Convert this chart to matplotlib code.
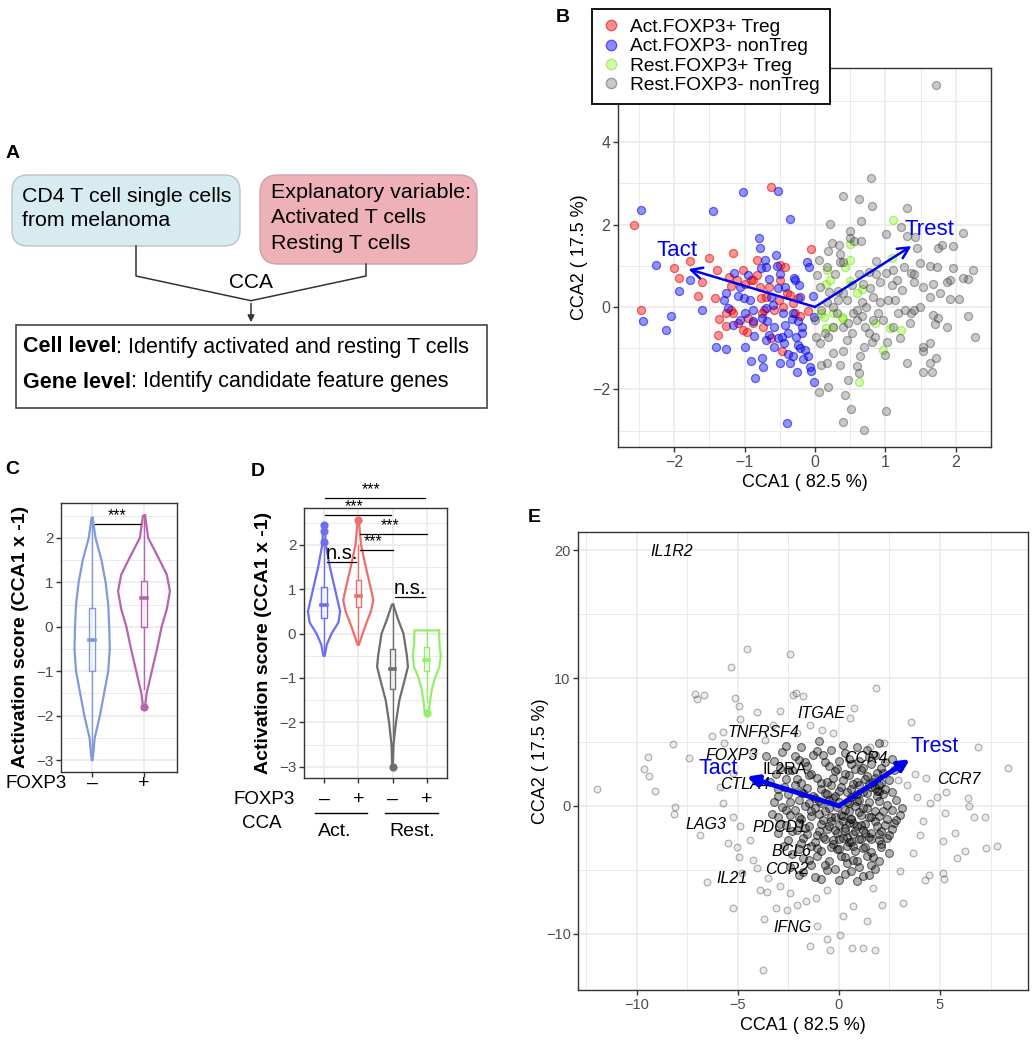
import matplotlib
matplotlib.use("Agg")
import matplotlib.pyplot as plt
import matplotlib.transforms as mtransforms
from matplotlib.patches import FancyBboxPatch
from matplotlib.lines import Line2D
from matplotlib.ticker import MultipleLocator

plt.rcParams["font.family"] = ["Liberation Sans", "DejaVu Sans"]

W, H = 1034, 1042

# ---------------- panel B : cell-level CCA biplot ----------------
red_x = [-2.57, -2.47, -2.01, -1.93, -1.78, -1.67, -1.60, -1.50, -1.42, -1.40, -1.36, -1.38, -1.27, -1.22,
         -1.17, -1.19, -1.19, -1.16, -1.09, -1.02, -0.99, -0.97, -0.95, -0.91, -0.83, -0.78, -0.77, -0.76,
         -0.74, -0.73, -0.69, -0.63, -0.62, -0.50, -0.51, -0.47, -0.42, -0.40, -0.36, -0.31, -0.28, -0.24,
         -0.21, -0.10, -0.06, -0.83, -0.88, -0.59, -1.02, -1.26, -0.50, -0.88, -0.66, -1.11, -0.45]
red_y = [1.98, -0.07, 0.95, 0.71, 1.11, 0.27, 0.60, 1.18, 0.21, 0.89, -0.30, -0.68, -0.46, 0.73,
         1.30, 0.52, -0.07, -0.15, -0.38, 0.90, 0.57, -0.60, -0.27, 0.65, 0.77, 0.49, 0.21, -0.15,
         -0.48, -0.07, 0.25, 2.91, -0.76, 0.65, 0.17, -1.08, 0.98, 0.33, 0.29, 0.09, -0.15, 0.21,
         -0.23, -0.09, 1.40, 1.14, -0.40, -0.07, -0.56, -0.15, 1.02, 0.65, 0.49, 0.65, 0.01]

blue_x = [-2.47, -2.44, -2.26, -2.12, -2.05, -1.94, -1.78, -1.61, -1.45, -1.41, -1.27, -1.30, -1.27, -1.24,
          -1.15, -1.09, -1.07, -1.02, -1.01, -1.00, -0.93, -0.91, -0.88, -0.87, -0.85, -0.80, -0.78, -0.77,
          -0.76, -0.74, -0.71, -0.70, -0.69, -0.68, -0.66, -0.65, -0.62, -0.60, -0.55, -0.54, -0.53, -0.52,
          -0.52, -0.50, -0.47, -0.44, -0.43, -0.40, -0.39, -0.38, -0.35, -0.33, -0.32, -0.30, -0.29, -0.27,
          -0.25, -0.24, -0.23, -0.21, -0.19, -0.18, -0.17, -0.14, -0.12, -0.10, -0.08, -0.07, -0.06, -0.03,
          -0.02, -0.01, -0.69, -0.59, -0.50, -0.36, -0.95, -1.07, -0.88, -0.76, -0.31, -0.21, -0.45, -0.59,
          -0.24, -0.43, -1.00, -1.16]
blue_y = [2.35, -0.35, 1.02, -0.57, -0.21, 0.40, 0.65, -0.07, 2.32, -0.98, -1.02, 0.17, 0.33, -0.03,
          0.83, 0.27, -0.31, 2.79, 0.23, -0.98, 0.17, -1.30, -0.35, -0.70, -1.73, 1.67, 1.44, 0.95,
          -1.23, -1.45, 1.14, 0.96, -0.02, -0.35, 0.69, -0.68, 0.25, 0.06, 1.26, 1.00, 2.82, 0.45,
          -0.76, 0.81, -0.72, -0.88, 0.48, -2.82, -1.14, -0.64, 2.13, -0.30, -1.20, 0.71, 0.65, -0.72,
          -1.59, -0.92, 0.53, -1.00, -0.49, -0.64, -1.27, -1.04, 1.10, -1.20, 0.98, -1.45, -1.56, 0.27,
          -0.25, -1.83, -0.80, -0.96, -1.36, -1.36, 0.77, 0.49, -0.07, -0.27, -0.15, 0.25, -0.15, -0.48,
          -0.35, -0.44, -0.15, -0.44]

green_x = [1.11, 1.09, 0.50, 0.49, 0.43, 0.17, 0.16, 0.49, 0.66, 0.12, 0.16, 0.26, 0.38, 0.40, 0.85,
           1.06, 1.22, 0.96, 0.62, 0.09, 0.21, 0.26, 0.59]
green_y = [2.12, 1.18, 1.52, 1.14, 0.96, 0.90, 0.56, 0.63, 0.43, -0.25, -0.52, -0.49, -0.25, -0.30, -0.40,
           -0.52, -0.56, -1.04, -1.82, -0.15, 0.65, -0.15, 0.33]

gray_x = [1.72, 0.79, 0.39, 0.63, 0.81, 1.30, 0.21, 0.65, 1.22, 0.50, 1.01, 1.30, 2.10, 1.96, 1.81, 1.74,
          0.49, 0.65, 0.24, 0.34, 0.56, 0.19, 0.35, 0.87, 0.05, 0.36, 0.40, 1.45, 1.42, 1.49, 1.63, 1.73,
          1.96, 2.25, 2.10, 2.18, 1.92, 1.41, 1.37, 1.26, 1.11, 1.01, 0.87, 0.76, 0.63, 0.28, 0.17, 0.03,
          0.07, 0.20, 0.32, 0.39, 0.52, 0.68, 0.78, 0.92, 1.09, 1.16, 1.23, 1.40, 1.54, 1.68, 1.63, 1.78,
          1.87, 2.04, 1.92, 2.18, 2.27, 1.87, 1.68, 1.74, 1.71, 1.72, 1.63, 1.54, 1.54, 1.54, 1.66, 1.63,
          1.30, 1.35, 1.37, 1.28, 1.14, 1.04, 0.92, 0.83, 0.73, 0.66, 0.59, 0.54, 0.45, 0.33, 0.26, 0.17,
          0.08, 0.00, 0.02, 0.07, 0.14, 0.19, 0.31, 0.40, 0.47, 0.52, 0.59, 0.66, 0.71, 0.76, 0.81, 0.85,
          0.90, 0.97, 1.02, 1.00, 1.11, 1.21, 1.18, 0.69, 0.64, 0.59, 0.62, 0.47, 0.40, 0.36, 0.26, 0.17,
          0.09, 0.19, 0.05, 0.43, 0.51, 0.39, 0.69, 1.01, 1.40, 1.49, 0.83, 0.45, 0.26]
gray_y = [5.40, 3.14, 2.70, 2.62, 2.45, 2.40, 2.02, 2.08, 1.94, 1.85, 1.76, 1.72, 1.80, 1.48, 1.50, 1.42,
          1.68, 1.60, 1.55, 1.50, 1.60, 1.36, 1.28, 1.11, 1.14, 1.10, 1.10, 1.42, 1.70, 1.06, 0.99, 0.98,
          0.95, 0.90, 0.71, 0.67, 0.65, 0.79, 0.83, 0.98, 0.90, 0.83, 0.79, 0.85, 0.81, 0.81, 0.98, 0.77,
          0.49, 0.37, 0.39, 0.33, 0.53, 0.57, 0.45, 0.61, 0.53, 0.65, 0.41, 0.61, 0.49, 0.57, 0.25, 0.33,
          0.61, 0.19, 0.19, -0.22, -0.73, -0.48, -0.19, -0.27, -0.41, -1.23, -0.88, -0.96, -1.08, -1.59, -1.59, -1.36,
          -1.36, -0.40, -0.15, -0.07, 0.17, 0.17, 0.13, 0.25, 0.01, 0.13, -0.07, -0.15, 0.17, 0.17, 0.01, 0.13,
          -0.07, -0.31, -0.72, -0.88, -0.64, -0.72, -0.15, -0.48, -0.40, -0.64, -0.31, -0.23, -0.48, -0.64, -0.84, -0.72,
          -0.15, -0.31, -0.84, -1.16, -0.48, -0.76, -0.15, -0.96, -1.20, -1.44, -1.61, -1.77, -1.08, -1.40, -1.12, -1.36,
          -1.40, -1.94, -2.06, -2.13, -2.47, -2.79, -2.98, -2.52, -0.07, 0.01, -0.31, -0.80, -0.48]

b_tact = (-1.80, 0.92)
b_trest = (1.37, 1.48)

# ---------------- panel C / D : activation score violins ----------------
c_neg_y = [2.45, 2.0, 1.5, 1.0, 0.5, 0.0, -0.5, -1.0, -1.5, -2.0, -2.5, -3.0]
c_neg_w = [0.01, 0.065, 0.18, 0.26, 0.31, 0.33, 0.34, 0.31, 0.23, 0.15, 0.05, 0.01]
c_neg_box = [-3.0, -1.0, -0.3, 0.42, 2.45]
c_neg_out = []
c_pos_y = [2.5, 2.0, 1.5, 1.17, 0.8, 0.4, 0.0, -0.5, -1.0, -1.35, -1.5, -1.8]
c_pos_w = [0.02, 0.08, 0.30, 0.44, 0.50, 0.44, 0.34, 0.25, 0.15, 0.08, 0.05, 0.02]
c_pos_box = [-1.4, 0.0, 0.65, 1.02, 2.5]
c_pos_out = [-1.8]

d1_y = [2.45, 2.0, 1.5, 1.0, 0.5, 0.25, 0.0, -0.25, -0.5]
d1_w = [0.02, 0.05, 0.17, 0.32, 0.47, 0.42, 0.22, 0.08, 0.02]
d1_box = [-0.5, 0.35, 0.65, 1.05, 1.95]
d1_out = [2.07, 2.3, 2.45]
d2_y = [2.55, 2.0, 1.5, 1.0, 0.75, 0.5, 0.2, 0.0, -0.25]
d2_w = [0.02, 0.08, 0.22, 0.37, 0.44, 0.37, 0.22, 0.13, 0.02]
d2_box = [-0.25, 0.6, 0.85, 1.2, 2.0]
d2_out = [2.55]
d3_y = [0.65, 0.3, 0.0, -0.5, -0.75, -1.0, -1.5, -2.0, -2.5, -3.0]
d3_w = [0.02, 0.17, 0.32, 0.42, 0.45, 0.37, 0.20, 0.10, 0.03, 0.01]
d3_box = [-2.35, -1.25, -0.8, -0.35, 0.6]
d3_out = [-3.0]
d4_y = [0.07, -0.25, -0.5, -0.75, -1.0, -1.25, -1.5, -1.75, -1.8]
d4_w = [0.36, 0.37, 0.41, 0.37, 0.24, 0.15, 0.10, 0.06, 0.02]
d4_box = [-1.55, -0.85, -0.6, -0.3, 0.05]
d4_out = [-1.8]

# ---------------- panel E : gene-level CCA biplot ----------------
gene_x = [-11.95, -9.65, -9.47, -9.40, -9.08, -8.20, -8.12, -8.17, -7.43, -7.14, -7.01, -6.70, -6.88, -6.55,
          -6.27, -5.73, -5.69, -5.36, -5.15, -4.93, -4.90, -4.54, -4.04, -5.23, -4.93, -5.48, -3.91, -3.58,
          -3.71, -3.75, -3.12, -2.92, -2.43, -2.29, -2.13, -1.77, 1.83, 0.76, 0.54, 3.55, 6.86, 8.35,
          6.40, 6.44, 6.70, 7.23, 7.84, 7.28, 6.24, 5.86, 5.74, 5.23, 5.15, 5.15, 5.18, 4.47, 4.26,
          4.83, 5.30, 4.29, 3.76, 3.18, 2.11, 1.37, 1.78, 1.20, 0.63, 0.05, -0.45, -0.58, -1.11, -1.44,
          0.18, 0.71, -1.63, -2.59, -2.06, -1.14, -0.61, 1.70, 3.02, 3.65, 4.01, 4.17, 4.50, 3.84, 3.35,
          2.94, 2.24, 1.53, -0.28, -0.86, -1.44, -2.10, -3.25, -3.66, -4.24, -5.23, -5.89, -5.73, -5.23,
          -4.90, -4.41, -5.07, -4.24, -4.08, -3.50, -2.92, -2.43, -4.82]
gene_y = [1.30, 2.92, 3.85, 2.37, 1.20, 4.84, -0.05, -0.65, 3.72, 8.72, 8.39, 8.67, -2.27, -5.96,
          5.49, 5.78, 4.90, 10.89, 8.41, 7.81, 6.80, 12.24, 7.37, -8.00, -3.96, -2.92, -6.56, -6.77,
          -8.85, -12.81, -8.00, 7.42, 11.88, 8.67, 8.85, 8.62, 9.24, 7.63, 6.85, 6.59, 4.64, 2.94,
          0.60, 0.00, -0.83, -0.83, -3.13, -3.26, -3.49, -4.04, -2.14, -0.52, -2.71, -5.26, -5.73, -5.39, -5.78,
          0.73, 1.12, 2.21, 2.47, -7.60, -7.73, -9.04, -11.25, -11.12, -11.12, -10.08, -11.25, -10.39, -9.43, -10.94,
          -8.65, -7.86, -7.47, -8.13, -7.73, -7.21, -6.56, -6.43, -5.13, -3.70, -2.27, -1.22, 0.21, 0.73, 1.64,
          2.03, 4.90, 4.64, 5.68, 5.94, 6.33, 5.68, 6.33, 5.16, 4.11, 2.55, 1.51, 0.21, -0.83,
          -1.61, -2.66, -3.18, -4.22, -4.87, -5.65, -6.30, -6.82, -5.26]

# dense centre of the gene cloud
core_x = [-3.2, -2.8, -2.5, -2.2, -1.9, -1.6, -1.3, -1.0, -0.7, -0.4, -0.1, 0.3, 0.6, 0.9, 1.2, 1.5, 1.9, 2.3,
          -3.4, -3.0, -2.7, -2.4, -2.1, -1.8, -1.5, -1.2, -0.9, -0.6, -0.3, 0.0, 0.3, 0.6, 0.9, 1.2, 1.5, 1.8,
          2.0, 2.2, 2.5, 2.8, 1.7, 1.9,
          -3.3, -2.9, -2.6, -2.3, -2.0, -1.7, -1.4, -1.1, -0.8, -0.5, -0.2, 0.1, 0.4, 0.7, 1.0, 1.3, 1.6, 1.9,
          2.2, 2.5, 2.8, 3.1,
          -2.7, -2.3, -1.9, -1.5, -1.1, -0.7, -0.3, 0.1, 0.5, 0.9, 1.3, 1.7, 2.1, 2.5,
          -1.8, -1.2, -0.6, 0.0, 0.6, 1.2, 1.8,
          0.2, 0.5, 0.8, -0.2, 0.4, 1.1, 0.0, 0.7, -0.5, 1.4, -0.9, 0.3, 0.9, -0.3, 1.6, 0.6, -0.1, 1.0,
          -0.7, 2.0,
          -2.6, -1.1, 0.2, 1.4, 2.0,
          -3.6, -2.0, -0.8, 0.5, 1.0, 1.8, 2.6,
          -2.9, -1.7, -0.5, 0.0, 0.8, 1.6, 2.1,
          -3.1, -2.3, -1.4, -0.2, 0.5, 1.1, 1.4, 2.2, 2.7,
          -2.6, -1.9, -1.1, -0.6, 0.2, 0.7, 1.3, 2.1, 1.8,
          -3.0, -2.2, -1.6, -0.9, -0.4, 0.1, 0.6, 1.0, 1.6, 2.3, 2.0,
          -2.5, -1.9, -1.3, -0.7, -0.2, 0.4, 0.9, 1.4, 1.9, 2.6,
          -3.2, -2.0, -1.5, -1.0, -0.5, 0.0, 0.5, 1.0, 1.5, 2.0, 2.4,
          -2.8, -2.2, -1.7, -1.2, -0.7, -0.1, 0.3, 0.8, 1.2, 1.8, 2.6,
          -3.0, -2.4, -1.9, -1.4, -1.0, -0.4, 0.2, 0.6, 1.1, 1.5, 2.0, 2.4, 3.0,
          -2.6, -2.0, -1.5, -0.9, -0.4, 0.0, 0.5, 0.9, 1.3, 1.8, 2.3, 2.7,
          -3.0, -2.1, -1.6, -1.0, -0.6, -0.1, 0.3, 0.7, 1.2, 1.6, 2.1, 2.6,
          -2.5, -1.8, -1.2, -0.8, -0.3, 0.2, 0.6, 1.1, 1.5, 2.0, 2.4,
          -2.0, -1.4, -0.9, -0.4, 0.0, 0.4, 0.8, 1.2, 1.6, 2.1,
          -1.8, -1.1, -0.5, 0.3, 0.7, 1.4, 2.0,
          -2.4, -1.4, -0.2, 0.4, 1.0, 1.6,
          -2.0, -0.9, 0.3, 0.9, 1.5]
core_y = [3.5, 4.2, 2.8, 3.9, 4.6, 3.1, 4.0, 5.1, 3.4, 4.4, 2.9, 4.1, 3.3, 4.6, 3.0, 3.8, 2.6, 3.4,
          1.9, 0.8, 1.5, 0.3, 2.1, 1.0, 2.4, 0.6, 1.8, 0.9, 2.2, 1.2, 2.5, 0.7, 1.9, 1.1, 1.7, 1.4,
          1.6, 0.9, 2.0, 0.5, 1.9, 1.2,
          -0.6, -1.4, -0.3, -2.0, -0.9, -1.7, -0.4, -2.3, -1.1, -0.2, -1.9, -0.7, -2.4, -1.3, -0.5, -2.1, -0.9, -1.6,
          -0.4, -2.3, -1.1, -0.2,
          -3.1, -3.8, -2.9, -4.2, -3.3, -4.6, -3.0, -3.9, -2.8, -4.3, -3.2, -4.0, -3.0, -3.7,
          -5.2, -5.6, -5.0, -5.8, -5.1, -5.5, -4.9,
          -1.2, -0.4, -2.0, -0.9, 0.3, -1.5, -2.6, -3.1, -1.6, -0.2, 0.2, -1.7, 0.4, 0.6, -2.6, -1.0, -3.4, -2.6,
          -2.6, -2.2,
          4.7, 4.3, 4.8, 4.4, 4.9,
          3.9, 3.6, 4.0, 3.7, 3.5, 4.0, 3.7,
          3.0, 3.4, 3.1, 3.5, 2.9, 3.3, 3.0,
          2.5, 2.8, 2.5, 2.7, 2.4, 2.8, 2.3, 2.6, 2.8,
          2.1, 1.8, 2.2, 1.9, 2.0, 1.7, 2.1, 1.8, 2.2,
          1.3, 1.6, 1.4, 1.3, 1.6, 1.5, 1.3, 1.6, 1.5, 1.3, 1.2,
          0.9, 1.1, 0.8, 1.0, 0.8, 1.1, 0.9, 1.0, 0.8, 1.1,
          0.3, 0.5, 0.2, 0.4, 0.5, 0.3, 0.2, 0.5, 0.3, 0.4, 0.1,
          -0.1, -0.3, 0.0, -0.2, -0.4, -0.1, -0.3, 0.0, -0.2, -0.4, -0.3,
          -0.9, -0.7, -1.0, -0.8, -0.6, -0.9, -0.8, -1.0, -0.7, -0.9, -0.8, -1.0, -0.7,
          -1.5, -1.3, -1.6, -1.4, -1.2, -1.5, -1.3, -1.6, -1.4, -1.2, -1.5, -1.3,
          -2.1, -1.9, -2.2, -2.0, -1.8, -2.1, -2.0, -2.2, -1.9, -2.1, -2.0, -1.8,
          -2.7, -2.5, -2.8, -2.4, -2.7, -2.5, -2.8, -2.6, -2.4, -2.7, -2.5,
          -3.4, -3.1, -3.5, -3.2, -3.4, -3.1, -3.5, -3.3, -3.6, -3.2,
          -4.1, -3.9, -4.3, -4.0, -4.2, -3.9, -4.3,
          -4.8, -4.6, -4.9, -4.5, -4.8, -4.6,
          -5.4, -5.7, -5.3, -5.9, -5.4]

gene_names = ["IL1R2", "ITGAE", "TNFRSF4", "FOXP3", "CCR4", "IL2RA", "CTLA4", "CCR7",
              "LAG3", "PDCD1", "BCL6", "CCR2", "IL21", "IFNG"]
gene_lab_x = [-8.28, -0.86, -3.75, -5.31, 1.34, -2.67, -4.65, 5.91, -6.60, -2.95, -2.34, -2.59, -5.28, -2.29]
gene_lab_y = [19.9, 7.24, 5.73, 3.98, 3.72, 2.81, 1.64, 2.03, -1.48, -1.67, -3.57, -4.95, -5.65, -9.51]

e_tact = (-4.57, 2.29)
e_trest = (3.51, 3.65)

TICK_GREY = "#4d4d4d"
GRID = "#ebebeb"


def style_axis(ax, tick_size=11):
    for sp in ax.spines.values():
        sp.set_color("#333333")
        sp.set_linewidth(1.0)
    ax.grid(True, which="major", color=GRID, linewidth=1.2)
    ax.grid(True, which="minor", color=GRID, linewidth=0.7)
    ax.set_axisbelow(True)
    ax.tick_params(which="major", length=3.5, width=1.0, color="#333333",
                   labelcolor=TICK_GREY, labelsize=tick_size, pad=2)
    ax.tick_params(which="minor", length=0)


def draw_violin(ax, pos, ys, ws, box, outliers, color, box_w):
    right = [pos + w for w in ws]
    left = [pos - w for w in ws][::-1]
    xs = right + left + [right[0]]
    yy = list(ys) + list(ys)[::-1] + [ys[0]]
    ax.plot(xs, yy, color=color, lw=1.6, solid_joinstyle="round")
    lo, q1, med, q3, hi = box
    ax.plot([pos, pos], [lo, q1], color=color, lw=1.0)
    ax.plot([pos, pos], [q3, hi], color=color, lw=1.0)
    ax.add_patch(plt.Rectangle((pos - box_w, q1), 2 * box_w, q3 - q1, fill=False,
                               edgecolor=color, lw=1.0))
    ax.plot([pos - box_w, pos + box_w], [med, med], color=color, lw=2.6)
    if outliers:
        ax.scatter([pos] * len(outliers), outliers, s=24, color=color, zorder=4)


fig = plt.figure(figsize=(W / 100, H / 100), dpi=100)

# overlay in pixel coordinates for the flow chart and panel letters
ov = fig.add_axes([0, 0, 1, 1])
ov.set_xlim(0, W)
ov.set_ylim(H, 0)
ov.axis("off")

for letter, (lx, ly) in zip("ABCDE", [(13, 154), (563, 18), (12, 470), (258, 472), (534, 517)]):
    ov.text(lx, ly, letter, fontsize=14, fontweight="bold", ha="center", va="center")

# ---- panel A ----
ov.add_patch(FancyBboxPatch((12, 175), 228, 71, boxstyle="round,pad=0,rounding_size=16",
                            facecolor="#d8ebf1", edgecolor="#b9c4c8", lw=1.0))
ov.add_patch(FancyBboxPatch((260, 175), 217, 89, boxstyle="round,pad=0,rounding_size=18",
                            facecolor="#eeb1b8", edgecolor="#cfa0a5", lw=1.0))
ov.add_patch(plt.Rectangle((16, 325), 471, 83, facecolor="white", edgecolor="#444444", lw=1.2))
ov.text(22, 196, "CD4 T cell single cells", fontsize=15.4, va="center")
ov.text(22, 221, "from melanoma", fontsize=15.4, va="center")
for i, line in enumerate(["Explanatory variable:", "Activated T cells", "Resting T cells"]):
    ov.text(271, 192 + i * 25.8, line, fontsize=15.4, va="center")
ov.plot([136, 136, 251, 366, 366], [246, 276, 300.7, 276, 264], color="#333333", lw=1.1)
ov.annotate("", xy=(251, 325), xytext=(251, 300.7),
            arrowprops=dict(arrowstyle="-|>", color="#333333", lw=1.1, mutation_scale=10))
ov.text(251, 283, "CCA", fontsize=15, ha="center", va="center")
for yy, bold, rest in [(347, "Cell level", ": Identify activated and resting T cells"),
                       (382, "Gene level", ": Identify candidate feature genes")]:
    tb = ov.text(23, yy, bold, fontsize=15.5, fontweight="bold", va="center")
    ov.annotate(rest, xy=(1, 0), xycoords=tb, fontsize=15.5, va="bottom", ha="left")

# ---- panel B ----
axB = fig.add_axes([618 / W, 1 - 447 / H, (991 - 618) / W, (447 - 67.7) / H])
style_axis(axB, 11.5)
pt = dict(s=34, linewidths=0.9)
axB.scatter(red_x, red_y, facecolor=(1, 0, 0, 0.42), edgecolor=(0.85, 0, 0, 0.55), **pt)
axB.scatter(blue_x, blue_y, facecolor=(0, 0, 1, 0.42), edgecolor=(0, 0, 0.85, 0.55), **pt)
axB.scatter(green_x, green_y, facecolor=(0.49, 0.99, 0, 0.35), edgecolor=(0.4, 0.85, 0, 0.45), **pt)
axB.scatter(gray_x, gray_y, facecolor=(0.3, 0.3, 0.3, 0.3), edgecolor=(0.2, 0.2, 0.2, 0.4), **pt)
for tip, name, off in [(b_tact, "Tact", (-0.16, 0.44)), (b_trest, "Trest", (0.26, 0.40))]:
    axB.annotate("", xy=tip, xytext=(0, 0),
                 arrowprops=dict(arrowstyle="->", color="#0000ee", lw=1.8, mutation_scale=20,
                                 shrinkA=0, shrinkB=0))
    axB.text(tip[0] + off[0], tip[1] + off[1], name, color="#0000ee", fontsize=16,
             ha="center", va="center")
axB.set_xlim(-2.80, 2.50)
axB.set_ylim(-3.40, 5.81)
axB.xaxis.set_major_locator(MultipleLocator(1))
axB.xaxis.set_minor_locator(MultipleLocator(0.5))
axB.yaxis.set_major_locator(MultipleLocator(2))
axB.yaxis.set_minor_locator(MultipleLocator(1))
axB.set_xlabel("CCA1 ( 82.5 %)", fontsize=13, labelpad=3)
axB.set_ylabel("CCA2 ( 17.5 %)", fontsize=13, labelpad=3)
handles = [Line2D([], [], ls="", marker="o", markersize=7.5, markerfacecolor=fc, markeredgecolor=ec)
           for fc, ec in [((1, 0, 0, 0.45), (0.85, 0, 0, 0.55)), ((0, 0, 1, 0.45), (0, 0, 0.85, 0.55)),
                          ((0.49, 0.99, 0, 0.35), (0.4, 0.85, 0, 0.45)),
                          ((0.3, 0.3, 0.3, 0.3), (0.2, 0.2, 0.2, 0.4))]]
leg = axB.legend(handles, ["Act.FOXP3+ Treg", "Act.FOXP3- nonTreg", "Rest.FOXP3+ Treg",
                           "Rest.FOXP3- nonTreg"],
                 loc="upper left", bbox_to_anchor=(592 / W, 1 - 9 / H), bbox_transform=fig.transFigure,
                 fontsize=13.8, frameon=True, fancybox=False, framealpha=1, borderaxespad=0,
                 labelspacing=0.1, handlelength=1.0, handletextpad=0.5, borderpad=0.5)
leg.get_frame().set_edgecolor("black")
leg.get_frame().set_linewidth(1.3)

# ---- panel C ----
axC = fig.add_axes([61 / W, 1 - 771.7 / H, (176.7 - 61) / W, (771.7 - 502.7) / H])
style_axis(axC, 11)
draw_violin(axC, 1, c_neg_y, c_neg_w, c_neg_box, c_neg_out, "#7f9bdb", 0.06)
draw_violin(axC, 2, c_pos_y, c_pos_w, c_pos_box, c_pos_out, "#b864ad", 0.06)
axC.plot([1.06, 1.92], [2.32, 2.32], color="black", lw=0.9)
axC.text(1.49, 2.34, "***", fontsize=11.5, ha="center", va="bottom")
axC.set_xlim(0.4, 2.63)
axC.set_ylim(-3.26, 2.79)
axC.set_xticks([1, 2])
axC.set_xticklabels([])
axC.yaxis.set_major_locator(MultipleLocator(1))
axC.yaxis.set_minor_locator(MultipleLocator(0.5))
axC.set_ylabel("Activation score (CCA1 x -1)", fontsize=14, fontweight="bold", labelpad=5)
trC = mtransforms.blended_transform_factory(axC.transData, ov.transData)
for xpos, lab in [(1, "–"), (2, "+")]:
    ov.text(xpos, 783, lab, transform=trC, fontsize=14, ha="center", va="center")
ov.text(36, 783, "FOXP3", fontsize=13.5, ha="center", va="center")

# ---- panel D ----
axD = fig.add_axes([304 / W, 1 - 778.3 / H, (447.3 - 304) / W, (778.3 - 508.3) / H])
style_axis(axD, 11)
for pos, ys, ws, box, outl, col in [(1, d1_y, d1_w, d1_box, d1_out, "#6e6ef2"),
                                    (2, d2_y, d2_w, d2_box, d2_out, "#ee6e6e"),
                                    (3, d3_y, d3_w, d3_box, d3_out, "#6e6e6e"),
                                    (4, d4_y, d4_w, d4_box, d4_out, "#93ef6a")]:
    draw_violin(axD, pos, ys, ws, box, outl, col, 0.08)
sig = [(1.03, 3.94, 3.06, "***", 3.07, 11.5), (1.03, 2.95, 2.67, "***", 2.68, 11.5),
       (2.05, 4.0, 2.24, "***", 2.25, 11.5), (2.05, 3.0, 1.88, "***", 1.89, 11.5),
       (1.1, 1.93, 1.6, "n.s.", 1.58, 14.5), (3.07, 3.95, 0.83, "n.s.", 0.81, 14.5)]
for x0, x1, yb, lab, yt, fs in sig:
    axD.plot([x0, x1], [yb, yb], color="black", lw=0.9, clip_on=False)
    xt = (x0 + x1) / 2 if lab == "n.s." else (x0 + x1) / 2 - 0.1
    axD.text(xt, yt, lab, fontsize=fs, ha="center", va="bottom", clip_on=False)
axD.set_xlim(0.415, 4.6)
axD.set_ylim(-3.26, 2.82)
axD.set_xticks([1, 2, 3, 4])
axD.set_xticklabels([])
axD.yaxis.set_major_locator(MultipleLocator(1))
axD.yaxis.set_minor_locator(MultipleLocator(0.5))
axD.set_ylabel("Activation score (CCA1 x -1)", fontsize=14, fontweight="bold", labelpad=5)
trD = mtransforms.blended_transform_factory(axD.transData, ov.transData)
for xpos, lab in [(1, "–"), (2, "+"), (3, "–"), (4, "+")]:
    ov.text(xpos, 799, lab, transform=trD, fontsize=14, ha="center", va="center")
ov.text(264, 799, "FOXP3", fontsize=13.5, ha="center", va="center")
ov.text(262, 823, "CCA", fontsize=13.5, ha="center", va="center")
ov.plot([315, 367], [813, 813], color="black", lw=1.0)
ov.plot([385, 438], [813, 813], color="black", lw=1.0)
ov.text(335, 831, "Act.", fontsize=14, ha="center", va="center")
ov.text(412, 831, "Rest.", fontsize=14, ha="center", va="center")

# ---- panel E ----
axE = fig.add_axes([578.3 / W, 1 - 990 / H, (1028.3 - 578.3) / W, (990 - 532.3) / H])
style_axis(axE, 10.5)
axE.scatter(gene_x, gene_y, s=24, facecolor=(0, 0, 0, 0.08), edgecolor=(0, 0, 0, 0.3), linewidths=0.8)
axE.scatter(core_x, core_y, s=32, facecolor=(0, 0, 0, 0.3), edgecolor=(0, 0, 0, 0.55), linewidths=0.8)
for name, gx, gy in zip(gene_names, gene_lab_x, gene_lab_y):
    axE.text(gx, gy, name, fontsize=11.5, style="normal" if name == "IL2RA" else "italic",
             ha="center", va="center")
for tip, name, off in [(e_tact, "Tact", (-1.4, 0.62)), (e_trest, "Trest", (1.24, 0.99))]:
    axE.annotate("", xy=tip, xytext=(0, 0),
                 arrowprops=dict(arrowstyle="-|>", color="#0000ee", lw=3.5, mutation_scale=16,
                                 shrinkA=0, shrinkB=0))
    axE.text(tip[0] + off[0], tip[1] + off[1], name, color="#0000ee", fontsize=15.5,
             ha="center", va="center")
axE.set_xlim(-12.9, 9.37)
axE.set_ylim(-14.4, 21.4)
axE.xaxis.set_major_locator(MultipleLocator(5))
axE.xaxis.set_minor_locator(MultipleLocator(2.5))
axE.yaxis.set_major_locator(MultipleLocator(10))
axE.yaxis.set_minor_locator(MultipleLocator(5))
axE.set_xlabel("CCA1 ( 82.5 %)", fontsize=13, labelpad=4)
axE.set_ylabel("CCA2 ( 17.5 %)", fontsize=13, labelpad=-2)

fig.savefig("out.png", dpi=100)
